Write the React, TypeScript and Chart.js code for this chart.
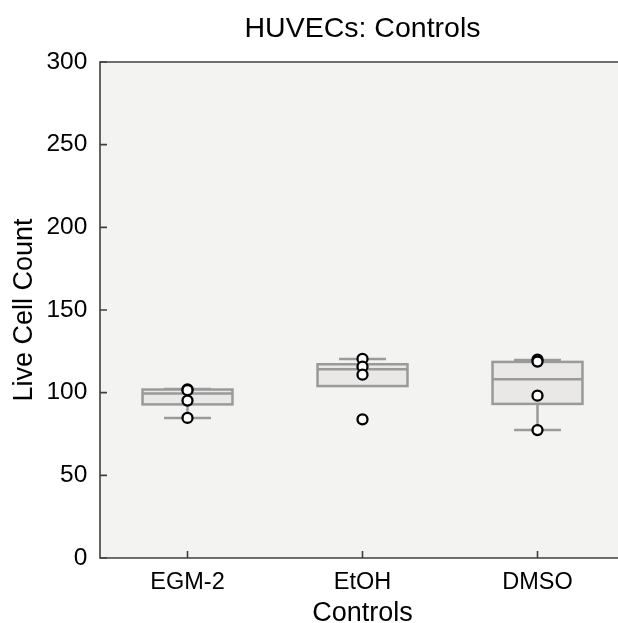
import React, { useEffect, useRef } from 'react';
import { Chart, registerables } from 'chart.js';

Chart.register(...registerables);

const categories = ['EGM-2', 'EtOH', 'DMSO'];
const boxQ1 = [92.9, 104, 93.2];
const boxMedian = [99.5, 114.2, 108.1];
const boxQ3 = [101.9, 117.2, 118.6];
const whiskerLow = [84.7, 104, 77.4];
const whiskerHigh = [102.2, 120.4, 119.8];
const pointsEGM2 = [102, 101.5, 95.2, 84.7];
const pointsEtOH = [120.4, 115.7, 110.9, 83.9];
const pointsDMSO = [120, 118.8, 98.2, 77.4];
const yTicks = [0, 50, 100, 150, 200, 250, 300];

const FONT = "'Liberation Sans', Arial, Helvetica, sans-serif";

const boxPlugin = {
  id: 'boxPlot',
  beforeDraw(chart: any) {
    const { ctx, chartArea: a } = chart;
    ctx.save();
    ctx.fillStyle = '#f3f3f2';
    ctx.fillRect(a.left, a.top, a.right - a.left, a.bottom - a.top);
    ctx.restore();
  },
  beforeDatasetsDraw(chart: any) {
    const { ctx } = chart;
    const xs = chart.scales.x;
    const ys = chart.scales.y;
    const halfBox = 0.257;
    const halfCap = 0.134;
    ctx.save();
    ctx.lineWidth = 2.5;
    ctx.strokeStyle = '#9a9a9a';
    categories.forEach((_, i) => {
      const xl = xs.getPixelForValue(i - halfBox);
      const xr = xs.getPixelForValue(i + halfBox);
      const xc = xs.getPixelForValue(i);
      const cl = xs.getPixelForValue(i - halfCap);
      const cr = xs.getPixelForValue(i + halfCap);
      const yq1 = ys.getPixelForValue(boxQ1[i]);
      const yq3 = ys.getPixelForValue(boxQ3[i]);
      const ym = ys.getPixelForValue(boxMedian[i]);
      const ylo = ys.getPixelForValue(whiskerLow[i]);
      const yhi = ys.getPixelForValue(whiskerHigh[i]);
      ctx.beginPath();
      ctx.moveTo(xc, yq1); ctx.lineTo(xc, ylo);
      ctx.moveTo(xc, yq3); ctx.lineTo(xc, yhi);
      if (whiskerLow[i] < boxQ1[i]) { ctx.moveTo(cl, ylo); ctx.lineTo(cr, ylo); }
      if (whiskerHigh[i] > boxQ3[i]) { ctx.moveTo(cl, yhi); ctx.lineTo(cr, yhi); }
      ctx.stroke();
      ctx.fillStyle = '#e9e8e7';
      ctx.fillRect(xl, yq3, xr - xl, yq1 - yq3);
      ctx.strokeRect(xl, yq3, xr - xl, yq1 - yq3);
      ctx.beginPath();
      ctx.moveTo(xl, ym); ctx.lineTo(xr, ym);
      ctx.stroke();
    });
    ctx.restore();
  },
  afterDatasetsDraw(chart: any) {
    const { ctx, chartArea: a } = chart;
    const xs = chart.scales.x;
    const ys = chart.scales.y;
    ctx.save();
    ctx.strokeStyle = '#404040';
    ctx.lineWidth = 1.6;
    ctx.beginPath();
    ctx.moveTo(a.right + 20, a.top); ctx.lineTo(a.left, a.top); ctx.lineTo(a.left, a.bottom);
    ctx.lineTo(a.right + 20, a.bottom);
    ctx.stroke();
    ctx.beginPath();
    yTicks.forEach((v) => {
      const y = ys.getPixelForValue(v);
      ctx.moveTo(a.left, y); ctx.lineTo(a.left + 7, y);
    });
    categories.forEach((_, i) => {
      const x = xs.getPixelForValue(i);
      ctx.moveTo(x, a.bottom); ctx.lineTo(x, a.bottom - 7);
    });
    ctx.stroke();
    ctx.restore();
  },
};

export default function App() {
  const ref = useRef<HTMLCanvasElement | null>(null);
  useEffect(() => {
    if (!ref.current) return;
    const allPoints = [pointsEGM2, pointsEtOH, pointsDMSO];
    const scatterData = allPoints.flatMap((arr, i) => arr.map((y) => ({ x: i, y })));
    const chart = new Chart(ref.current, {
      type: 'scatter',
      data: {
        datasets: [
          {
            data: scatterData,
            pointRadius: 5,
            pointBorderWidth: 2.3,
            pointBackgroundColor: '#ffffff',
            pointBorderColor: '#000000',
            pointHoverRadius: 5,
            clip: false as any,
          },
        ],
      },
      options: {
        responsive: false,
        animation: false,
        events: [],
        layout: { padding: 0 },
        plugins: {
          legend: { display: false },
          tooltip: { enabled: false },
          title: {
            display: true,
            text: 'HUVECs: Controls',
            color: '#000',
            font: { family: FONT, size: 28.5, weight: 'normal' },
            padding: { top: 12, bottom: 15.8 },
          },
        },
        scales: {
          x: {
            type: 'linear',
            min: -0.5,
            max: 2.5,
            grid: { display: false, drawTicks: false },
            border: { display: false },
            afterBuildTicks: (scale: any) => {
              scale.ticks = categories.map((_, i) => ({ value: i }));
            },
            afterFit: (scale: any) => {
              scale.height = 65;
            },
            ticks: {
              color: '#000',
              font: { family: FONT, size: 23.5 },
              padding: 10.5,
              maxRotation: 0,
              autoSkip: false,
              callback: (v: any) => categories[Math.round(Number(v))] ?? '',
            },
            title: {
              display: true,
              text: 'Controls',
              color: '#000',
              font: { family: FONT, size: 27, lineHeight: 0.667 },
              padding: { top: 0, bottom: 0 },
            },
          },
          y: {
            type: 'linear',
            position: 'left',
            min: 0,
            max: 300,
            grid: { display: false, drawTicks: false },
            border: { display: false },
            afterBuildTicks: (scale: any) => {
              scale.ticks = yTicks.map((v) => ({ value: v }));
            },
            afterFit: (scale: any) => {
              scale.width = 100;
            },
            ticks: {
              color: '#000',
              font: { family: FONT, size: 24.5 },
              padding: 12.7,
            },
            title: {
              display: true,
              text: 'Live Cell Count',
              color: '#000',
              font: { family: FONT, size: 27 },
              padding: { top: 8, bottom: 0 },
            },
          },
          yRight: {
            type: 'linear',
            position: 'right',
            display: true,
            min: 0,
            max: 300,
            grid: { display: false, drawTicks: false },
            border: { display: false },
            ticks: { display: false },
            afterFit: (scale: any) => {
              scale.width = 100;
            },
          },
        },
      },
      plugins: [boxPlugin],
    });
    return () => chart.destroy();
  }, []);
  return (
    <div style={{ position: 'fixed', left: 0, top: 0, width: 618, height: 623, overflow: 'hidden', background: '#fff' }}>
      <canvas ref={ref} width={725} height={623} style={{ width: 725, height: 623, display: 'block' }} />
    </div>
  );
}
